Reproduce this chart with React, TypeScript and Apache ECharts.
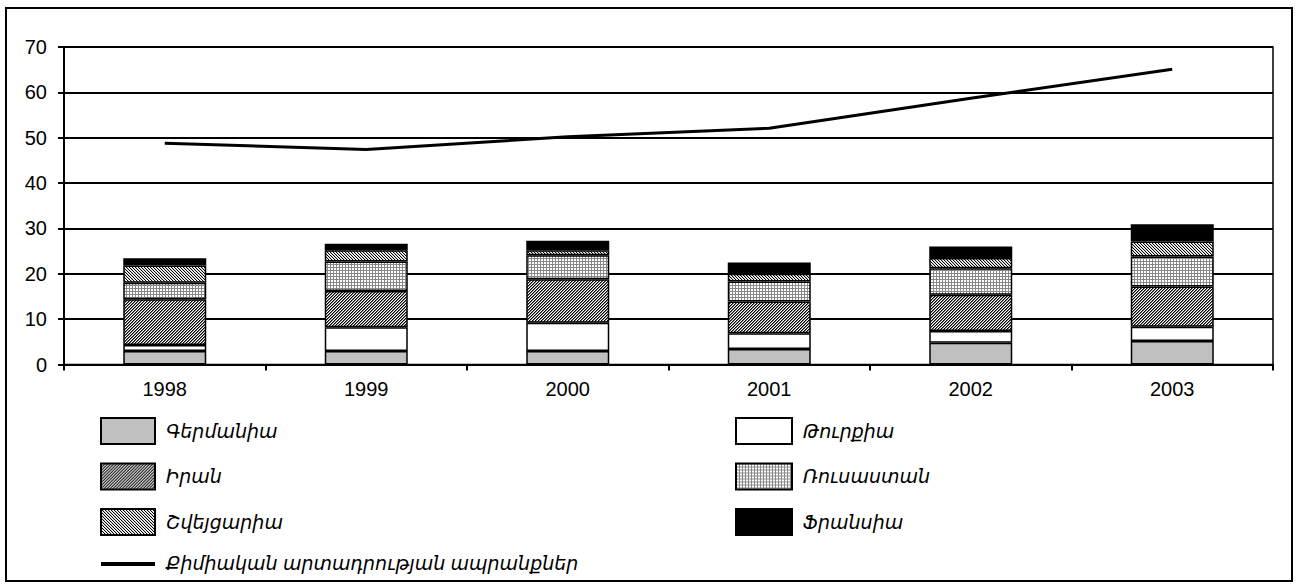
import React, { useEffect, useRef } from "react";
import * as echarts from "echarts";

const years = ["1998", "1999", "2000", "2001", "2002", "2003"];
const yTicks = [0, 10, 20, 30, 40, 50, 60, 70];

const germany = [3.0, 3.0, 3.0, 3.4, 4.8, 5.2];
const turkey = [1.3, 5.2, 6.2, 3.5, 2.6, 3.1];
const iran = [10.1, 8.0, 9.6, 7.0, 8.0, 8.9];
const russia = [3.6, 6.5, 5.3, 4.4, 5.8, 6.6];
const switzerland = [3.8, 2.5, 1.1, 1.7, 2.3, 3.3];
const france = [1.6, 1.4, 2.1, 2.5, 2.5, 3.8];
const chemical = [48.8, 47.4, 50.2, 52.1, 58.7, 65.1];

const names = {
  germany: "Գերմանիա",
  turkey: "Թուրքիա",
  iran: "Իրան",
  russia: "Ռուսաստան",
  switzerland: "Շվեյցարիա",
  france: "Ֆրանսիա",
  chemical: "Քիմիական արտադրության ապրանքներ",
};

function makePattern(size: number, fn: (x: number, y: number) => string | null) {
  const c = document.createElement("canvas");
  c.width = size;
  c.height = size;
  const ctx = c.getContext("2d")!;
  ctx.fillStyle = "#fff";
  ctx.fillRect(0, 0, size, size);
  for (let x = 0; x < size; x++) {
    for (let y = 0; y < size; y++) {
      const col = fn(x, y);
      if (col) {
        ctx.fillStyle = col;
        ctx.fillRect(x, y, 1, 1);
      }
    }
  }
  return { image: c, repeat: "repeat", imageWidth: size, imageHeight: size };
}

export default function App() {
  const ref = useRef<HTMLDivElement>(null);
  useEffect(() => {
    document.body.style.margin = "0";
    const chart = echarts.init(ref.current!, null, { renderer: "svg" });
    const iranPat = makePattern(3, (x, y) => {
      const k = (x + y) % 3;
      return k === 0 ? "#000" : k === 1 ? "#777" : null;
    });
    const swissPat = makePattern(3, (x, y) => {
      const k = (x - y + 6) % 3;
      return k === 0 ? "#000" : k === 1 ? "#ccc" : null;
    });
    const russiaPat = makePattern(3, (x, y) => (x === 0 || y === 0 ? "#888" : null));
    const font = "'Liberation Sans', 'DejaVu Sans', Arial, sans-serif";
    const border = { borderColor: "#000", borderWidth: 1.5 };
    const bar = (name: string, data: number[], color: any) => ({
      name,
      type: "bar",
      stack: "total",
      data,
      barWidth: 83,
      itemStyle: { color, ...border },
    });
    const legendText = {
      fontFamily: font,
      fontStyle: "italic",
      fontSize: 19,
      color: "#000",
      padding: [0, 0, 0, 6],
    };
    const rectItem = (name: string) => ({ name, icon: "rect" });
    chart.setOption({
      animation: false,
      grid: {
        left: 64,
        right: 26,
        top: 47,
        bottom: 222.5,
        show: true,
        borderColor: "#000",
        borderWidth: 1.5,
      },
      xAxis: {
        type: "category",
        data: years,
        boundaryGap: true,
        axisLine: { lineStyle: { color: "#000", width: 2 } },
        axisTick: { show: true, length: 6, lineStyle: { color: "#000", width: 2 } },
        axisLabel: { color: "#000", fontFamily: font, fontSize: 20, margin: 14 },
      },
      yAxis: {
        type: "value",
        min: yTicks[0],
        max: yTicks[yTicks.length - 1],
        interval: 10,
        axisLine: { show: true, lineStyle: { color: "#000", width: 2 } },
        axisTick: { show: true, length: 6, lineStyle: { color: "#000", width: 2 } },
        axisLabel: { color: "#000", fontFamily: font, fontSize: 20, margin: 17 },
        splitLine: { lineStyle: { color: "#000", width: 2 } },
      },
      legend: [
        {
          orient: "vertical",
          left: 94,
          top: 412,
          itemWidth: 54,
          itemHeight: 26,
          itemGap: 17.5,
          data: [
            rectItem(names.germany),
            rectItem(names.iran),
            rectItem(names.switzerland),
            {
              name: names.chemical,
              itemStyle: { color: "transparent", borderWidth: 0, opacity: 0 },
              lineStyle: { width: 4, color: "#000" },
            },
          ],
          textStyle: legendText,
          selectedMode: false,
        },
        {
          orient: "vertical",
          left: 730,
          top: 412,
          itemWidth: 56,
          itemHeight: 26,
          itemGap: 17.5,
          data: [rectItem(names.turkey), rectItem(names.russia), rectItem(names.france)],
          textStyle: legendText,
          selectedMode: false,
        },
      ],
      graphic: [
        {
          type: "rect",
          shape: { x: 6, y: 8, width: 1286, height: 573 },
          style: { fill: "none", stroke: "#000", lineWidth: 2 },
          silent: true,
        },
      ],
      series: [
        bar(names.germany, germany, "#c0c0c0"),
        bar(names.turkey, turkey, "#ffffff"),
        bar(names.iran, iran, iranPat),
        bar(names.russia, russia, russiaPat),
        bar(names.switzerland, switzerland, swissPat),
        bar(names.france, france, "#000000"),
        {
          name: names.chemical,
          type: "line",
          data: chemical,
          symbol: "none",
          lineStyle: { color: "#000", width: 3 },
          itemStyle: { color: "#000" },
        },
      ],
    });
    return () => chart.dispose();
  }, []);
  return <div ref={ref} style={{ width: 1299, height: 587 }} />;
}
